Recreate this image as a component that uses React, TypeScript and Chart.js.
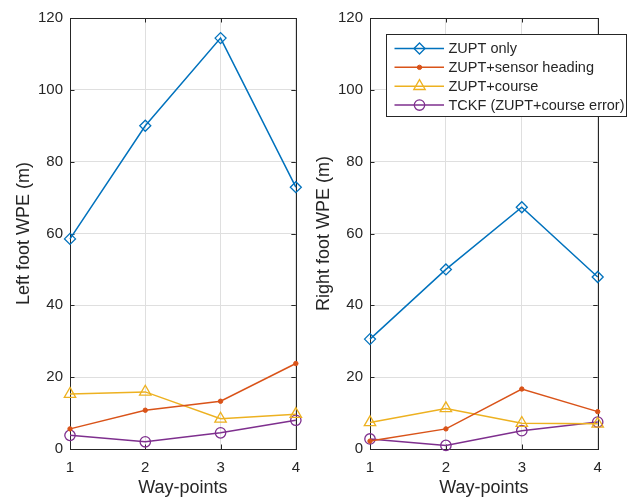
import React, { useEffect, useRef } from "react";
import { Chart, registerables } from "chart.js";
import { drawPoint } from "chart.js/helpers";

Chart.register(...registerables);

// ---------- data ----------
const waypoints = [1, 2, 3, 4];
const seriesLabels = ["ZUPT only", "ZUPT+sensor heading", "ZUPT+course", "TCKF (ZUPT+course error)"];
const seriesColors = ["#0072BD", "#D95319", "#EDB120", "#7E2F8E"];
const seriesMarkers = ["rectRot", "circle", "triangle", "circle"];
const markerRadius = [5.5, 2.2, 6.6, 5.2];
const markerFilled = [false, true, false, false];

const leftZupt = [58.5, 90.0, 114.4, 72.9];
const leftSensor = [5.6, 10.8, 13.3, 23.8];
const leftCourse = [15.3, 15.9, 8.4, 9.7];
const leftTckf = [3.8, 2.0, 4.5, 8.0];

const rightZupt = [30.6, 50.0, 67.3, 47.9];
const rightSensor = [2.2, 5.6, 16.7, 10.4];
const rightCourse = [7.4, 11.3, 7.2, 7.0];
const rightTckf = [2.8, 1.0, 5.1, 7.5];

const yMin = 0;
const yMax = 120;
const yStep = 20;
const xTitle = "Way-points";
const leftYTitle = "Left foot WPE (m)";
const rightYTitle = "Right foot WPE (m)";

// ---------- style ----------
const FONT = '"Liberation Sans", Arial, Helvetica, sans-serif';
const INK = "#262626";
const GRID = "#dfdfdf";

const boxPlugin = {
  id: "matlabBox",
  beforeDatasetsDraw(chart: any) {
    const { ctx, chartArea } = chart;
    const { left, right, top, bottom } = chartArea;
    const tl = 4.5;
    ctx.save();
    ctx.strokeStyle = INK;
    ctx.lineWidth = 1;
    ctx.beginPath();
    chart.scales.y.ticks.forEach((t: any) => {
      const py = Math.round(chart.scales.y.getPixelForValue(t.value)) + 0.5;
      ctx.moveTo(left, py);
      ctx.lineTo(left + tl, py);
      ctx.moveTo(right, py);
      ctx.lineTo(right - tl, py);
    });
    chart.scales.x.ticks.forEach((t: any) => {
      const px = Math.round(chart.scales.x.getPixelForValue(t.value)) + 0.5;
      ctx.moveTo(px, bottom);
      ctx.lineTo(px, bottom - tl);
      ctx.moveTo(px, top);
      ctx.lineTo(px, top + tl);
    });
    ctx.stroke();
    ctx.strokeRect(Math.round(left) + 0.5, Math.round(top) + 0.5, Math.round(right - left), Math.round(bottom - top));
    ctx.restore();
  },
};

const legendPlugin = {
  id: "matlabLegend",
  afterDraw(chart: any) {
    const opts = chart.options.plugins.matlabLegend;
    if (!opts || !opts.show) return;
    const { ctx } = chart;
    const bx = opts.x, by = opts.y, bw = opts.w, bh = opts.h;
    ctx.save();
    ctx.fillStyle = "#ffffff";
    ctx.fillRect(bx, by, bw, bh);
    ctx.strokeStyle = INK;
    ctx.lineWidth = 1;
    ctx.strokeRect(bx + 0.5, by + 0.5, bw, bh);
    ctx.font = `14.5px ${FONT}`;
    ctx.textBaseline = "middle";
    ctx.textAlign = "left";
    chart.data.datasets.forEach((ds: any, i: number) => {
      const cy = opts.rowY + i * opts.rowStep;
      ctx.strokeStyle = ds.borderColor;
      ctx.lineWidth = 1.5;
      ctx.beginPath();
      ctx.moveTo(bx + 8.5, cy);
      ctx.lineTo(bx + 58, cy);
      ctx.stroke();
      ctx.fillStyle = ds.pointBackgroundColor;
      ctx.strokeStyle = ds.borderColor;
      ctx.lineWidth = ds.pointBorderWidth;
      drawPoint(ctx, { pointStyle: ds.pointStyle, radius: ds.pointRadius, rotation: 0, borderWidth: ds.pointBorderWidth }, bx + 33.5, cy);
      ctx.fillStyle = INK;
      ctx.fillText(ds.label, bx + 62.5, cy + 0.5);
    });
    ctx.restore();
  },
};

function makeDatasets(series: number[][]) {
  return series.map((vals, i) => ({
    label: seriesLabels[i],
    data: waypoints.map((x, j) => ({ x, y: vals[j] })),
    borderColor: seriesColors[i],
    backgroundColor: seriesColors[i],
    pointBackgroundColor: markerFilled[i] ? seriesColors[i] : "rgba(0,0,0,0)",
    pointBorderColor: seriesColors[i],
    pointStyle: seriesMarkers[i],
    pointRadius: markerRadius[i],
    pointBorderWidth: markerFilled[i] ? 1 : 1.3,
    borderWidth: 1.5,
    tension: 0,
    clip: false as any,
  }));
}

function makeConfig(series: number[][], yTitle: string, padRight: number, legend: any) {
  return {
    type: "line" as const,
    data: { datasets: makeDatasets(series) },
    plugins: [boxPlugin, legendPlugin],
    options: {
      animation: false as const,
      responsive: false,
      devicePixelRatio: 1,
      layout: { padding: { top: 18, right: padRight, left: 0, bottom: 0 } },
      plugins: {
        legend: { display: false },
        tooltip: { enabled: false },
        matlabLegend: legend,
      },
      scales: {
        x: {
          type: "linear" as const,
          min: 1,
          max: 4,
          ticks: { stepSize: 1, color: INK, font: { family: FONT, size: 15 }, padding: 10 },
          grid: { color: GRID, drawTicks: false, lineWidth: 1 },
          border: { display: false },
          title: { display: true, text: xTitle, color: INK, font: { family: FONT, size: 18 }, padding: { top: 0, bottom: 4 } },
          afterFit: (s: any) => { s.height = 54; },
        },
        y: {
          type: "linear" as const,
          min: yMin,
          max: yMax,
          ticks: { stepSize: yStep, color: INK, font: { family: FONT, size: 15 }, padding: 7 },
          grid: { color: GRID, drawTicks: false, lineWidth: 1 },
          border: { display: false },
          title: { display: true, text: yTitle, color: INK, font: { family: FONT, size: 18 }, padding: { top: 13, bottom: 0 } },
          afterFit: (s: any) => { s.width = 70; },
        },
      },
    },
  };
}

function Panel(props: { series: number[][]; yTitle: string; left: number; width: number; padRight: number; legend: any }) {
  const ref = useRef<HTMLCanvasElement>(null);
  useEffect(() => {
    if (!ref.current) return;
    const chart = new Chart(ref.current, makeConfig(props.series, props.yTitle, props.padRight, props.legend) as any);
    return () => chart.destroy();
  }, []);
  return (
    <canvas
      ref={ref}
      width={props.width}
      height={503}
      style={{ position: "absolute", left: props.left, top: 0, width: props.width, height: 503 }}
    />
  );
}

export default function App() {
  return (
    <div style={{ position: "absolute", left: 0, top: 0, width: 627, height: 503, background: "#ffffff", overflow: "hidden" }}>
      <Panel
        series={[leftZupt, leftSensor, leftCourse, leftTckf]}
        yTitle={leftYTitle}
        left={0}
        width={310}
        padRight={11.3}
        legend={{ show: false }}
      />
      <Panel
        series={[rightZupt, rightSensor, rightCourse, rightTckf]}
        yTitle={rightYTitle}
        left={300}
        width={327}
        padRight={29.3}
        legend={{ show: true, x: 86, y: 34, w: 240, h: 82, rowY: 48.5, rowStep: 18.85 }}
      />
    </div>
  );
}
